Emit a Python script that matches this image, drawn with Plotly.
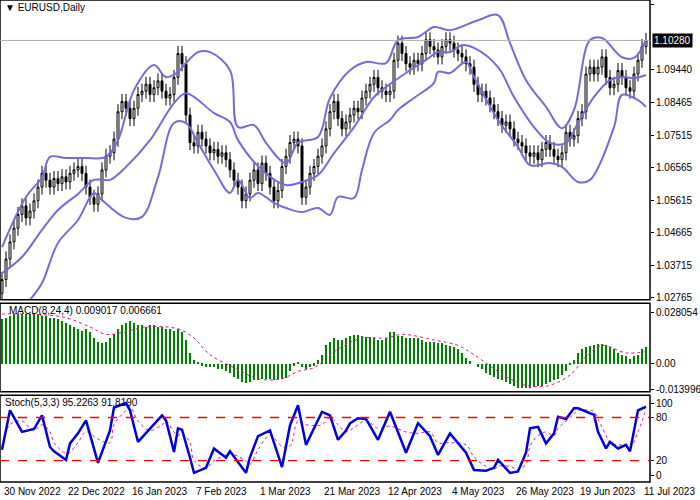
import plotly.graph_objects as go

# --- price data (EURUSD daily) ---
closes = [
    1.0330, 1.0390, 1.0440, 1.0480, 1.0520, 1.0545, 1.0510, 1.0530, 1.0560, 1.0600,
    1.0640, 1.0620, 1.0600, 1.0625, 1.0610, 1.0630, 1.0615, 1.0640, 1.0650, 1.0660,
    1.0640, 1.0600, 1.0570, 1.0550, 1.0580, 1.0650, 1.0690, 1.0700, 1.0740, 1.0820,
    1.0850, 1.0830, 1.0800, 1.0830, 1.0870, 1.0880, 1.0900, 1.0870, 1.0890, 1.0910,
    1.0880, 1.0860, 1.0870, 1.0920, 1.0990, 1.0960, 1.0810, 1.0730, 1.0720, 1.0760,
    1.0740, 1.0720, 1.0700, 1.0710, 1.0690, 1.0700, 1.0680, 1.0650, 1.0620, 1.0600,
    1.0560, 1.0580, 1.0620, 1.0650, 1.0610, 1.0670, 1.0640, 1.0600, 1.0560, 1.0590,
    1.0660, 1.0690, 1.0730, 1.0740, 1.0720, 1.0570, 1.0600, 1.0640, 1.0660, 1.0690,
    1.0720, 1.0770, 1.0820, 1.0850, 1.0800, 1.0770, 1.0790, 1.0810, 1.0830, 1.0820,
    1.0860, 1.0880, 1.0900, 1.0920, 1.0890, 1.0880, 1.0870, 1.0880, 1.0970, 1.1020,
    1.0990, 1.0960, 1.0950, 1.0970, 1.0960, 1.0990, 1.1030, 1.1010, 1.1000, 1.0980,
    1.1010, 1.1030, 1.1020, 1.1000, 1.0990, 1.0980, 1.0960, 1.0950, 1.0900, 1.0870,
    1.0880, 1.0860, 1.0840, 1.0820, 1.0800, 1.0780, 1.0790, 1.0770, 1.0740, 1.0730,
    1.0720, 1.0700, 1.0690, 1.0700, 1.0680, 1.0710, 1.0730, 1.0710, 1.0690, 1.0680,
    1.0700, 1.0760, 1.0740, 1.0750, 1.0800, 1.0820, 1.0930, 1.0950, 1.0930, 1.0950,
    1.0980, 1.0920, 1.0890, 1.0900, 1.0940, 1.0920, 1.0890, 1.0880, 1.0930, 1.0970,
    1.1010, 1.1028,
]
first_open = 1.0290
wick = 0.0022

# Bollinger bands (bar index, price)
upper_x = [0, 6, 10, 12, 16, 21, 26, 29, 33, 38, 41, 44, 46, 49, 52, 57, 59, 63, 66, 71, 74,
           79, 82, 87, 91, 96, 99, 104, 108, 112, 119, 124, 127, 131, 136, 140, 143, 147,
           150, 155, 158, 161]
upper_y = [1.0425, 1.0571, 1.0629, 1.0688, 1.0685, 1.0685, 1.0688, 1.0737, 1.0883, 1.0956,
           1.0921, 1.0936, 1.0962, 1.0994, 1.0994, 1.0941, 1.0775, 1.0781, 1.0729, 1.0670,
           1.0729, 1.0746, 1.0860, 1.0941, 1.0965, 1.0962, 1.1029, 1.1038, 1.1067, 1.1058,
           1.1087, 1.1102, 1.1020, 1.0912, 1.0834, 1.0772, 1.0825, 1.1029, 1.1035, 1.0979,
           1.0977, 1.1029]
mid_x = [0, 5, 10, 14, 19, 23, 27, 31, 37, 43, 46, 53, 57, 59, 65, 71, 75, 79, 83, 88, 93,
         96, 101, 106, 109, 112, 115, 118, 124, 128, 133, 137, 141, 144, 148, 152, 155, 158, 161]
mid_y = [1.0349, 1.0396, 1.0475, 1.0533, 1.0580, 1.0621, 1.0621, 1.0659, 1.0737, 1.0845,
         1.0874, 1.0816, 1.0790, 1.0737, 1.0650, 1.0606, 1.0615, 1.0635, 1.0699, 1.0775,
         1.0863, 1.0892, 1.0933, 1.0971, 1.0994, 1.0994, 1.1014, 1.1006, 1.0950, 1.0863,
         1.0775, 1.0729, 1.0729, 1.0787, 1.0863, 1.0912, 1.0921, 1.0918, 1.0927]
lower_x = [7, 10, 14, 19, 23, 25, 31, 35, 39, 43, 46, 49, 53, 57, 59, 62, 64, 68, 71, 75, 79,
           82, 84, 88, 90, 93, 97, 99, 103, 108, 109, 112, 116, 118, 124, 129, 132, 137, 140,
           144, 147, 153, 155, 159, 161]
lower_y = [1.0271, 1.0320, 1.0437, 1.0504, 1.0583, 1.0562, 1.0510, 1.0513, 1.0629, 1.0787,
           1.0787, 1.0729, 1.0650, 1.0583, 1.0621, 1.0568, 1.0583, 1.0554, 1.0539, 1.0527,
           1.0539, 1.0519, 1.0571, 1.0568, 1.0650, 1.0758, 1.0796, 1.0825, 1.0860, 1.0904,
           1.0936, 1.0933, 1.0965, 1.0921, 1.0796, 1.0717, 1.0664, 1.0670, 1.0659, 1.0615,
           1.0621, 1.0775, 1.0869, 1.0854, 1.0834]

# MACD histogram, one value per bar
macd_hist = [
    0.024, 0.025, 0.026, 0.027, 0.027, 0.027, 0.027, 0.027, 0.027, 0.027,
    0.026, 0.026, 0.025, 0.025, 0.024, 0.023, 0.022, 0.021, 0.020, 0.019,
    0.018, 0.019, 0.017, 0.014, 0.012, 0.011, 0.012, 0.014, 0.016, 0.019,
    0.021, 0.022, 0.023, 0.022, 0.021, 0.021, 0.020, 0.021, 0.021, 0.020,
    0.020, 0.019, 0.019, 0.018, 0.019, 0.017, 0.013, 0.006, 0.002, 0.0005,
    -0.001, -0.0015, -0.002, -0.002, -0.003, -0.003, -0.004, -0.005, -0.007, -0.008,
    -0.010, -0.0105, -0.010, -0.009, -0.009, -0.008, -0.008, -0.0085, -0.009, -0.008,
    -0.008, -0.0075, -0.004, -0.001, 0.001, -0.002, -0.003, -0.002, -0.001, 0.002,
    0.005, 0.010, 0.012, 0.014, 0.013, 0.013, 0.014, 0.015, 0.0155, 0.0155,
    0.015, 0.0145, 0.0145, 0.014, 0.013, 0.013, 0.014, 0.017, 0.017, 0.015,
    0.015, 0.014, 0.014, 0.014, 0.014, 0.013, 0.012, 0.012, 0.012, 0.011,
    0.011, 0.010, 0.0095, 0.009, 0.008, 0.006, 0.003, 0.0015, 0.000, -0.002,
    -0.003, -0.005, -0.006, -0.007, -0.0085, -0.009, -0.010, -0.011, -0.012, -0.013,
    -0.013, -0.013, -0.013, -0.0125, -0.012, -0.012, -0.011, -0.010, -0.009, -0.008,
    -0.006, -0.004, -0.0005, 0.002, 0.006, 0.008, 0.009, 0.0095, 0.010, 0.0105,
    0.0105, 0.010, 0.009, 0.008, 0.006, 0.005, 0.004, 0.0025, 0.004, 0.005,
    0.008, 0.009,
]
macd_sig_x = [0, 8, 16, 22, 26, 30, 36, 44, 48, 52, 58, 64, 70, 74, 78, 84, 90, 96, 100,
              108, 114, 118, 124, 130, 136, 142, 146, 150, 156, 161]
macd_sig_y = [0.027, 0.027, 0.025, 0.020, 0.016, 0.017, 0.020, 0.019, 0.014, 0.005, -0.002,
              -0.008, -0.008, -0.004, -0.002, 0.008, 0.014, 0.014, 0.016, 0.013, 0.010, 0.005,
              -0.004, -0.011, -0.012, -0.006, 0.004, 0.010, 0.006, 0.0067]

# Stochastic (bar index, %K, %D)
stoch_x = [0, 2, 5, 7, 8, 10, 12, 13, 16, 17, 19, 21, 24, 27, 28, 31, 32, 34, 37, 40, 41,
           43, 44, 45, 47, 48, 51, 53, 56, 57, 61, 62, 64, 67, 70, 72, 74, 76, 80, 82, 84,
           86, 87, 89, 91, 94, 97, 101, 104, 107, 109, 112, 116, 118, 121, 123, 124, 127,
           129, 131, 132, 134, 136, 138, 139, 141, 143, 144, 147, 148, 149, 151, 152, 154,
           156, 157, 159, 161]
stoch_k = [35, 90, 60, 62, 64, 83, 39, 33, 21, 44, 58, 76, 17, 62, 94, 100, 90, 46, 65, 83,
           76, 32, 65, 63, 24, 3, 10, 37, 24, 33, 3, 25, 54, 62, 11, 69, 97, 42, 88, 83, 49,
           62, 72, 79, 78, 49, 88, 31, 72, 54, 28, 58, 31, 7, 6, 10, 21, 3, 5, 31, 65, 67,
           44, 58, 81, 78, 93, 93, 86, 84, 60, 37, 46, 37, 42, 33, 90, 95]
stoch_d = [40, 70, 75, 65, 62, 70, 60, 45, 30, 32, 45, 60, 50, 45, 70, 90, 95, 75, 62, 70,
           75, 60, 55, 58, 45, 20, 10, 20, 28, 30, 20, 15, 35, 55, 40, 40, 75, 70, 70, 80,
           70, 60, 62, 70, 76, 65, 68, 60, 58, 60, 45, 45, 42, 25, 12, 8, 12, 12, 8, 15, 40,
           55, 60, 55, 65, 75, 85, 90, 90, 88, 78, 55, 45, 42, 42, 38, 60, 92]

# x-axis date labels (every 16 bars)
date_pos = [0, 16, 32, 48, 64, 80, 96, 112, 128, 144, 160]
date_labels = ["30 Nov 2022", "22 Dec 2022", "16 Jan 2023", "7 Feb 2023", "1 Mar 2023",
               "21 Mar 2023", "12 Apr 2023", "4 May 2023", "26 May 2023", "19 Jun 2023",
               "11 Jul 2023"]
price_ticks = [1.11340, 1.09440, 1.08465, 1.07515, 1.06565, 1.05615, 1.04665, 1.03715, 1.02765]
last_price = 1.10280

# build candles
bars = list(range(len(closes)))
opens = [first_open] + closes[:-1]
highs = [max(o, c) + wick for o, c in zip(opens, closes)]
lows = [min(o, c) - wick for o, c in zip(opens, closes)]

BAND = "#7b68d8"
fig = go.Figure()
for bx, by in [(upper_x, upper_y), (mid_x, mid_y), (lower_x, lower_y)]:
    fig.add_trace(go.Scatter(x=bx, y=by, mode="lines", line=dict(color=BAND, width=2),
                             line_shape="spline", yaxis="y", hoverinfo="skip"))
fig.add_trace(go.Candlestick(
    x=bars, open=opens, high=highs, low=lows, close=closes, yaxis="y",
    increasing=dict(line=dict(color="black", width=1), fillcolor="white"),
    decreasing=dict(line=dict(color="black", width=1), fillcolor="black"),
    whiskerwidth=0))

fig.add_trace(go.Bar(x=bars, y=macd_hist, marker=dict(color="#008000", line=dict(width=0)),
                     width=0.7, yaxis="y2"))
fig.add_trace(go.Scatter(x=macd_sig_x, y=macd_sig_y, mode="lines", line_shape="spline",
                         line=dict(color="#d0208a", width=1, dash="dot"), yaxis="y2"))

fig.add_trace(go.Scatter(x=stoch_x, y=stoch_d, mode="lines", line_shape="spline",
                         line=dict(color="#d020d0", width=1, dash="dot"), yaxis="y3"))
fig.add_trace(go.Scatter(x=stoch_x, y=stoch_k, mode="lines",
                         line=dict(color="#0000dd", width=2.5), yaxis="y3"))

font = dict(family="Liberation Sans", size=10, color="black")
ax_common = dict(side="right", showgrid=False, zeroline=False, ticks="outside", ticklen=3,
                 tickcolor="black", tickfont=font, anchor="x")
fig.update_layout(
    width=700, height=500, showlegend=False, paper_bgcolor="white", plot_bgcolor="white",
    margin=dict(l=0, r=50, t=0, b=18), bargap=0, hovermode=False,
    xaxis=dict(range=[-0.5, 162], showticklabels=False, showgrid=False, zeroline=False,
               rangeslider=dict(visible=False), ticks=""),
    yaxis=dict(domain=[0.378, 1], range=[1.0271, 1.1146], tickvals=price_ticks,
               ticktext=[f"{v:.5f}" for v in price_ticks], **ax_common),
    yaxis2=dict(domain=[0.187, 0.371], range=[-0.0151, 0.0329],
                tickvals=[0.028054, 0.0, -0.013996],
                ticktext=["0.028054", "0.00", "-0.013996"], **ax_common),
    yaxis3=dict(domain=[0, 0.18], range=[-9.7, 111], tickvals=[100, 80, 20, 0],
                ticktext=["100", "80", "20", "0"], **ax_common),
)

shapes = []
for d0, d1 in [(0.378, 1), (0.187, 0.371), (0, 0.18)]:
    shapes.append(dict(type="rect", xref="paper", yref="paper", x0=0, x1=1, y0=d0, y1=d1,
                       line=dict(color="black", width=1.5)))
shapes.append(dict(type="line", xref="paper", yref="y", x0=0, x1=1, y0=last_price,
                   y1=last_price, line=dict(color="#b0b0b0", width=1)))
for lv in [20, 80]:
    shapes.append(dict(type="line", xref="paper", yref="y3", x0=0, x1=1, y0=lv, y1=lv,
                       line=dict(color="#ff0000", width=1.3, dash="dash")))
fig.update_layout(shapes=shapes)

ann = [
    dict(text="▼ EURUSD,Daily", x=0.005, y=1, xref="paper", yref="paper", xanchor="left",
         yanchor="top", showarrow=False, font=font),
    dict(text="MACD(8,24,4) 0.009017 0.006661", x=0.01, y=0.371, xref="paper", yref="paper",
         xanchor="left", yanchor="top", showarrow=False, font=font),
    dict(text="Stoch(5,3,3) 95.2263 91.8190", x=0.005, y=0.18, xref="paper", yref="paper",
         xanchor="left", yanchor="top", showarrow=False, font=font),
    dict(text=f"{last_price:.5f}", x=1.0, y=last_price, xref="paper", yref="y",
         xanchor="left", yanchor="middle", showarrow=False, bgcolor="black", xshift=2,
         font=dict(family="Liberation Sans", size=10, color="white")),
]
for p, lab in zip(date_pos, date_labels):
    ann.append(dict(text=lab, x=p, y=0, xref="x", yref="paper", xanchor="left",
                    yanchor="top", yshift=-2, showarrow=False, font=font))
fig.update_layout(annotations=ann)

fig.write_html("out.html", config={"displayModeBar": False},
               post_script="document.body.style.margin='0';")
